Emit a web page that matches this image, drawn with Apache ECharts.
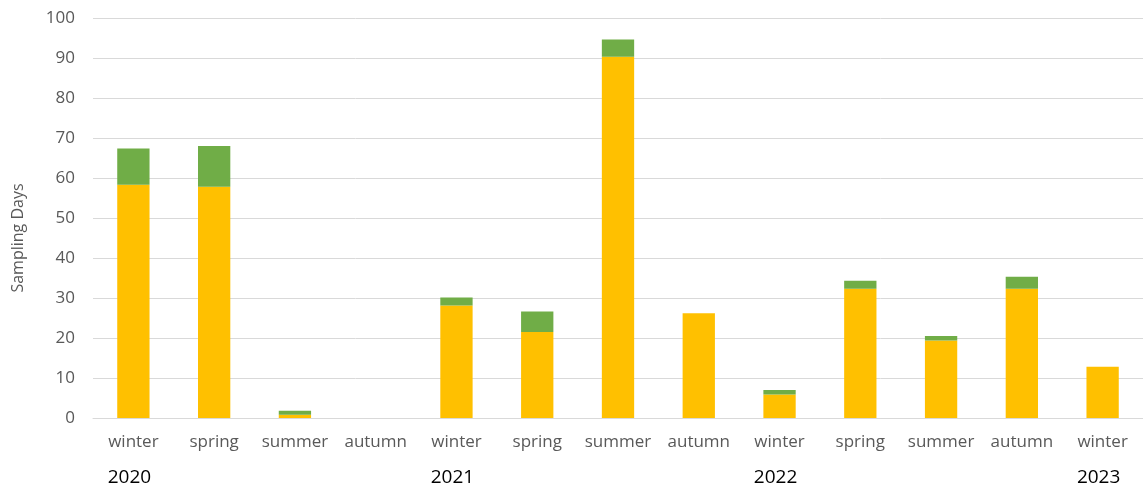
<!DOCTYPE html>
<html>
<head>
<meta charset="utf-8">
<script src="https://cdn.jsdelivr.net/npm/echarts@6/dist/echarts.min.js"></script>
<style>
  html, body { margin: 0; padding: 0; background: #fff; }
  #chart { width: 1143px; height: 493px; }
</style>
</head>
<body>
<div id="chart"></div>
<script>
// Seasons sampled, winter 2020 through winter 2023
const seasons = ['winter', 'spring', 'summer', 'autumn', 'winter', 'spring', 'summer', 'autumn',
                 'winter', 'spring', 'summer', 'autumn', 'winter'];
const years = ['2020', '', '', '', '2021', '', '', '', '2022', '', '', '', '2023'];
// Sampling days per season, stacked
const yellowDays = [58.3, 57.8, 0.8, 0, 28.1, 21.5, 90.3, 26.2, 5.9, 32.3, 19.4, 32.3, 12.8];
const greenDays  = [9.1, 10.2, 1.0, 0, 2.0, 5.1, 4.3, 0, 1.1, 2.0, 1.1, 3.0, 0];
const yTicks = { min: 0, max: 100, interval: 10 };
const yTitle = 'Sampling Days';

const font = '"Open Sans", "Noto Sans", sans-serif';
const cats = seasons.map((s, i) => i + '');

const chart = echarts.init(document.getElementById('chart'));
chart.setOption({
  animation: false,
  grid: { left: 93, right: 0, top: 18, bottom: 75 },
  xAxis: [
    {
      type: 'category',
      data: cats,
      axisLine: { lineStyle: { color: '#d9d9d9', width: 1 } },
      axisTick: { show: false },
      axisLabel: {
        interval: 0, hideOverlap: false,
        formatter: (v) => seasons[+v],
        color: '#595959', fontFamily: font, fontSize: 17, margin: 16
      }
    },
    {
      type: 'category',
      data: cats,
      position: 'bottom',
      offset: 36,
      axisLine: { show: false },
      axisTick: { show: false },
      axisLabel: {
        interval: 0, hideOverlap: false,
        formatter: (v) => years[+v],
        color: '#000', fontFamily: font, fontSize: 19, margin: 14,
        padding: [0, 8, 0, 0]
      }
    }
  ],
  yAxis: {
    type: 'value',
    min: yTicks.min, max: yTicks.max, interval: yTicks.interval,
    axisLine: { show: false },
    axisTick: { show: false },
    axisLabel: { color: '#595959', fontFamily: font, fontSize: 17, margin: 18 },
    splitLine: { lineStyle: { color: '#d9d9d9', width: 1 } }
  },
  graphic: [{
    type: 'text',
    x: 18, y: 238,
    rotation: Math.PI / 2,
    style: {
      text: yTitle,
      fill: '#595959',
      font: '16px ' + font,
      textAlign: 'center',
      textVerticalAlign: 'middle'
    }
  }],
  series: [
    {
      type: 'bar', stack: 'days', data: yellowDays, barWidth: '40%',
      itemStyle: { color: '#FFC000' }
    },
    {
      type: 'bar', stack: 'days', data: greenDays, barWidth: '40%',
      itemStyle: { color: '#70AD47' }
    }
  ]
});
</script>
</body>
</html>
